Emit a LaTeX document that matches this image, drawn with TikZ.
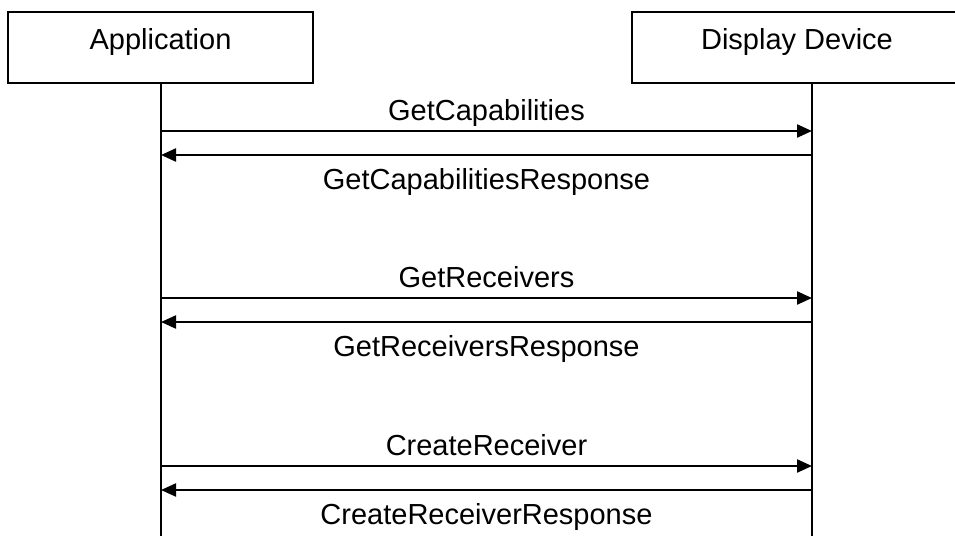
\documentclass[tikz,border=0pt]{standalone}
\usepackage{fontspec}
\setmainfont{Liberation Sans}
\usetikzlibrary{arrows.meta, positioning, calc}

\begin{document}
\begin{tikzpicture}[
    x=1pt, y=-1pt,
    every node/.style={font=\fontsize{29}{35}\selectfont},
    actor/.style={draw, line width=2.6pt, inner sep=0pt, text height=37pt, text depth=34pt, text centered},
    lifeline/.style={line width=2.2pt},
    msg/.style={line width=2.2pt, -{Triangle[length=15pt,width=13pt]}},
    lbl/.style={anchor=base, inner sep=0pt}
]
    \useasboundingbox (0,0) rectangle (955,536);

    \node [actor, minimum width=305pt] (app) at (160.5,47.5) {Application};
    \node [actor, minimum width=330pt] (dev) at (797,47.5) {Display Device};

    \coordinate (append) at (161,536);
    \coordinate (devend) at (812,536);
    \draw [lifeline] (app.south -| append) -- (append);
    \draw [lifeline] (dev.south -| devend) -- (devend);

    \foreach \req/\resp/\y [count=\i] in {GetCapabilities/GetCapabilitiesResponse/131,
                                          GetReceivers/GetReceiversResponse/298,
                                          CreateReceiver/CreateReceiverResponse/466} {
        \coordinate (reqa\i) at (161,\y);
        \coordinate (reqb\i) at (812,\y);
        \coordinate (respa\i) at (161,\y+24);
        \coordinate (respb\i) at (812,\y+24);
        \draw [msg] (reqa\i) -- node [lbl, yshift=11pt] (reqlbl\i) {\req} (reqb\i);
        \draw [msg] (respb\i) -- node [lbl, yshift=-34pt] (resplbl\i) {\resp} (respa\i);
    }
\end{tikzpicture}
\end{document}
